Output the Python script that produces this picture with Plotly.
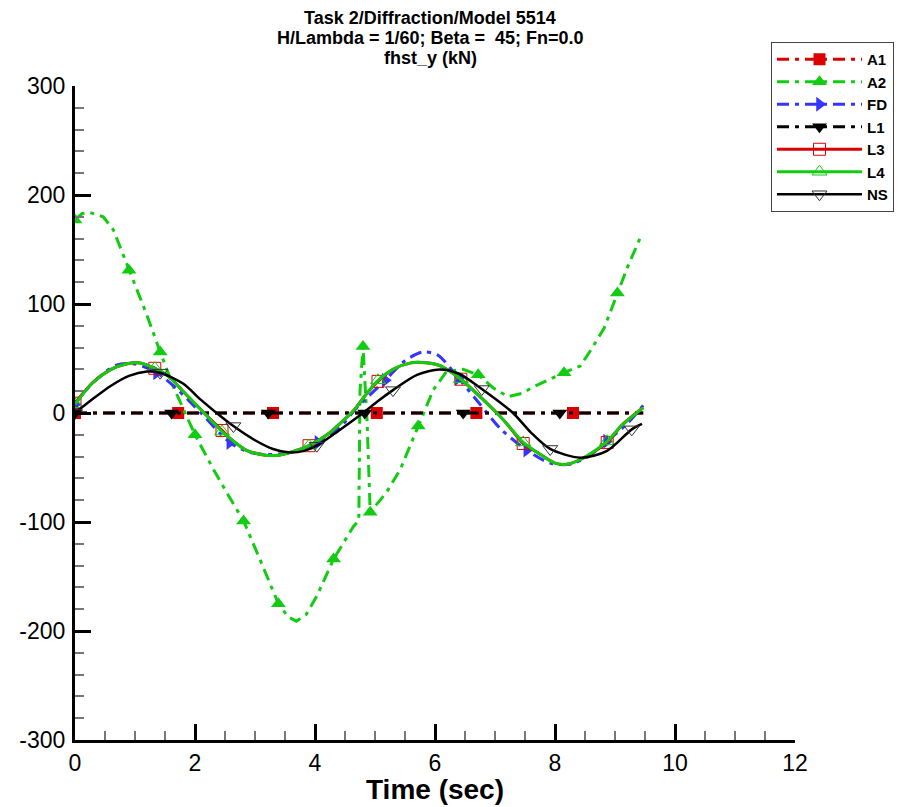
import plotly.graph_objects as go

# ---------------- data ----------------
A1_t = [0, 1.72, 3.3, 5.03, 6.69, 8.3, 9.47]
A1_v = [0, 0, 0, 0, 0, 0, 0]
A1_mk = [0, 1, 2, 3, 4, 5]

L1_t = [0, 1.61, 3.22, 4.83, 6.47, 8.08, 9.47]
L1_v = [0, 0, 0, 0, 0, 0, 0]
L1_mk = [0, 1, 2, 3, 4, 5]

A2_t = [0, 0.12, 0.25, 0.47, 0.64, 0.9, 1.19, 1.42, 1.64, 2.0, 2.31, 2.55, 2.81, 3.08,
        3.39, 3.55, 3.69, 3.85, 4.03, 4.31, 4.5, 4.64, 4.73, 4.75, 4.8, 4.87, 4.92, 5.19,
        5.42, 5.72, 5.97, 6.19, 6.47, 6.72, 6.97, 7.22, 7.45, 7.64, 8.15, 8.42, 8.6, 8.82,
        9.04, 9.21, 9.43]
A2_v = [177, 183, 184, 180, 168, 131, 91, 56, 24, -20, -52, -75, -99, -134,
        -175, -187, -191, -185, -168, -134, -117, -104, -99, 20, 61, -10, -91, -73,
        -52, -12, 21, 38, 40, 35, 23, 15, 18, 24, 37, 43, 58, 78,
        110, 134, 162]
A2_mk = [0, 5, 7, 9, 12, 14, 19, 24, 26, 29, 33, 38, 42]

FD_t = [0, 0.3, 0.69, 1.0, 1.36, 1.7, 2.1, 2.58, 2.9, 3.2, 3.5, 3.8, 4.05, 4.4, 4.7,
        5.17, 5.5, 5.8, 6.05, 6.39, 6.75, 7.1, 7.53, 7.92, 8.25, 8.55, 8.86, 9.2, 9.47]
FD_v = [8, 28, 44, 45, 37, 22, 0, -27, -36, -38, -37, -33, -27, -14, 5,
        30, 48, 56, 53, 32, 8, -15, -34, -46, -47, -40, -26, -10, 7]
FD_mk = [0, 4, 7, 12, 15, 19, 22, 26]

L3_t = [0, 0.3, 0.6, 0.85, 1.05, 1.33, 1.55, 1.8, 2.1, 2.45, 2.6, 2.85, 3.1, 3.35, 3.6,
        3.9, 4.2, 4.45, 4.64, 4.85, 5.05, 5.3, 5.6, 5.85, 6.1, 6.43, 6.75, 7.03, 7.2,
        7.47, 7.7, 8.0, 8.2, 8.45, 8.87, 9.1, 9.47]
L3_v = [9, 28, 40, 45, 46, 41, 34, 20, 3, -16, -24, -34, -38, -39, -36,
        -30, -20, -8, 2, 17, 29, 40, 46, 46, 43, 31, 15, 0, -10,
        -28, -36, -46, -47, -42, -27, -12, 5]
L3_mk = [0, 5, 9, 15, 20, 25, 29, 34]

L4_t = [0, 0.3, 0.6, 0.85, 1.05, 1.33, 1.55, 1.8, 2.1, 2.45, 2.6, 2.85, 3.1, 3.35, 3.6,
        3.9, 4.2, 4.45, 4.64, 4.85, 5.05, 5.3, 5.6, 5.85, 6.1, 6.43, 6.75, 7.03, 7.2,
        7.47, 7.7, 8.0, 8.2, 8.45, 8.87, 9.1, 9.47]
L4_v = [8, 28, 40, 45, 46, 41, 34, 20, 3, -17, -24, -34, -38, -39, -36,
        -30, -20, -8, 2, 17, 30, 40, 46, 46, 43, 31, 15, 0, -10,
        -27, -36, -46, -47, -42, -26, -12, 5]
L4_mk = [0, 5, 9, 15, 20, 25, 29, 34]

NS_t = [0, 0.3, 0.6, 0.9, 1.2, 1.42, 1.8, 2.1, 2.36, 2.64, 3.0, 3.3, 3.55, 3.8, 4.03,
        4.4, 4.8, 5.05, 5.3, 5.7, 6.08, 6.4, 6.78, 7.3, 7.6, 7.92, 8.42, 8.86, 9.28, 9.45]
NS_v = [0, 13, 25, 34, 38, 37, 27, 12, 0, -12, -25, -33, -36, -35, -30,
        -16, 0, 11, 21, 35, 40, 36, 22, 0, -18, -33, -41, -35, -15, -10]
NS_mk = [0, 5, 9, 14, 18, 22, 25, 28]

title_lines = ["Task 2/Diffraction/Model 5514",
               "H/Lambda = 1/60; Beta = \u00a045; Fn=0.0",
               "fhst_y (kN)"]
x_title = "Time (sec)"
x_ticks = [0, 2, 4, 6, 8, 10, 12]
y_ticks = [-300, -200, -100, 0, 100, 200, 300]

# ---------------- styles ----------------
RED = "#dd0000"
GREEN = "#11cc11"
BLUE = "#3535ff"
BLACK = "#000000"
DASH = "12px,6px,4px,6px"

series = [
    ("A1", A1_t, A1_v, A1_mk, RED, DASH, 3, "square", 12, RED, "linear"),
    ("A2", A2_t, A2_v, A2_mk, GREEN, DASH, 3, "triangle-up", 13, GREEN, "linear"),
    ("FD", FD_t, FD_v, FD_mk, BLUE, DASH, 3, "triangle-right", 13, BLUE, "spline"),
    ("L1", L1_t, L1_v, L1_mk, BLACK, DASH, 3, "triangle-down", 13, BLACK, "linear"),
    ("L3", L3_t, L3_v, L3_mk, RED, "solid", 3, "square-open", 12, RED, "spline"),
    ("L4", L4_t, L4_v, L4_mk, GREEN, "solid", 3, "triangle-up-open", 13, GREEN, "spline"),
    ("NS", NS_t, NS_v, NS_mk, BLACK, "solid", 2.5, "triangle-down-open", 13, "#333333", "spline"),
]

fig = go.Figure()
for name, t, v, mk, col, dash, lw, sym, ms, mcol, shape in series:
    fig.add_trace(go.Scatter(
        x=t, y=v, mode="lines", name=name, showlegend=False, legendgroup=name,
        line=dict(color=col, width=lw, dash=dash, shape=shape, smoothing=0.8),
        hoverinfo="skip"))
    fig.add_trace(go.Scatter(
        x=[t[i] for i in mk], y=[v[i] for i in mk], mode="markers", name=name,
        showlegend=False, legendgroup=name,
        marker=dict(symbol=sym, size=ms, color=mcol,
                    line=dict(width=1 if "open" in sym else 0, color=mcol)),
        hoverinfo="skip"))
for name, t, v, mk, col, dash, lw, sym, ms, mcol, shape in series:
    fig.add_trace(go.Scatter(
        x=[None], y=[None], mode="lines+markers", name=name, legendgroup=name,
        line=dict(color=col, width=lw, dash=dash),
        marker=dict(symbol=sym, size=ms, color=mcol,
                    line=dict(width=1 if "open" in sym else 0, color=mcol))))

TICKFONT = dict(family="Liberation Sans", size=23, color="black")

fig.update_xaxes(
    range=[0, 12], tickvals=x_ticks, ticktext=[str(x) for x in x_ticks],
    ticks="inside", ticklen=16, tickwidth=3, tickcolor="black",
    showline=True, linewidth=3, linecolor="black", showgrid=False, zeroline=False,
    tickfont=TICKFONT, ticklabelstandoff=0,
    minor=dict(ticks="inside", dtick=0.5, ticklen=9, tickwidth=1.5, tickcolor="#777777",
               showgrid=False),
)
fig.update_yaxes(
    range=[-300, 300], tickvals=y_ticks, ticktext=[str(y) for y in y_ticks],
    ticks="inside", ticklen=16, tickwidth=3, tickcolor="black",
    showline=True, linewidth=3, linecolor="black", showgrid=False, zeroline=False,
    tickfont=TICKFONT, ticklabelstandoff=2,
    minor=dict(ticks="inside", dtick=20, ticklen=9, tickwidth=1.5, tickcolor="#777777",
               showgrid=False),
)

title_y = [18, 38, 58]
for txt, py in zip(title_lines, title_y):
    fig.add_annotation(
        text="<b>" + txt + "</b>", xref="paper", yref="paper",
        x=(430 - 75) / 720, y=(740 - py) / 654, xanchor="center", yanchor="middle",
        showarrow=False,
        font=dict(family="Liberation Sans", size=18, color="black"))

fig.add_annotation(
    text="<b>" + x_title + "</b>", xref="paper", yref="paper",
    x=(435 - 75) / 720, y=(740 - 790) / 654, xanchor="center", yanchor="middle",
    showarrow=False, font=dict(family="Liberation Sans", size=28, color="black"))

# page body adds an 8px margin, so the figure is 8px smaller than the window
fig.update_layout(
    width=901, height=799, autosize=False,
    margin=dict(l=67, r=114, t=78, b=67, autoexpand=False),
    plot_bgcolor="white", paper_bgcolor="white",
    legend=dict(x=(771 - 75) / 720, y=(740 - 42) / 654, xanchor="left", yanchor="top",
                bgcolor="white", bordercolor="#444444", borderwidth=1,
                font=dict(family="Liberation Sans", size=15, weight="bold", color="black"),
                itemwidth=85, tracegroupgap=0),
)

fig.write_html("out.html")
